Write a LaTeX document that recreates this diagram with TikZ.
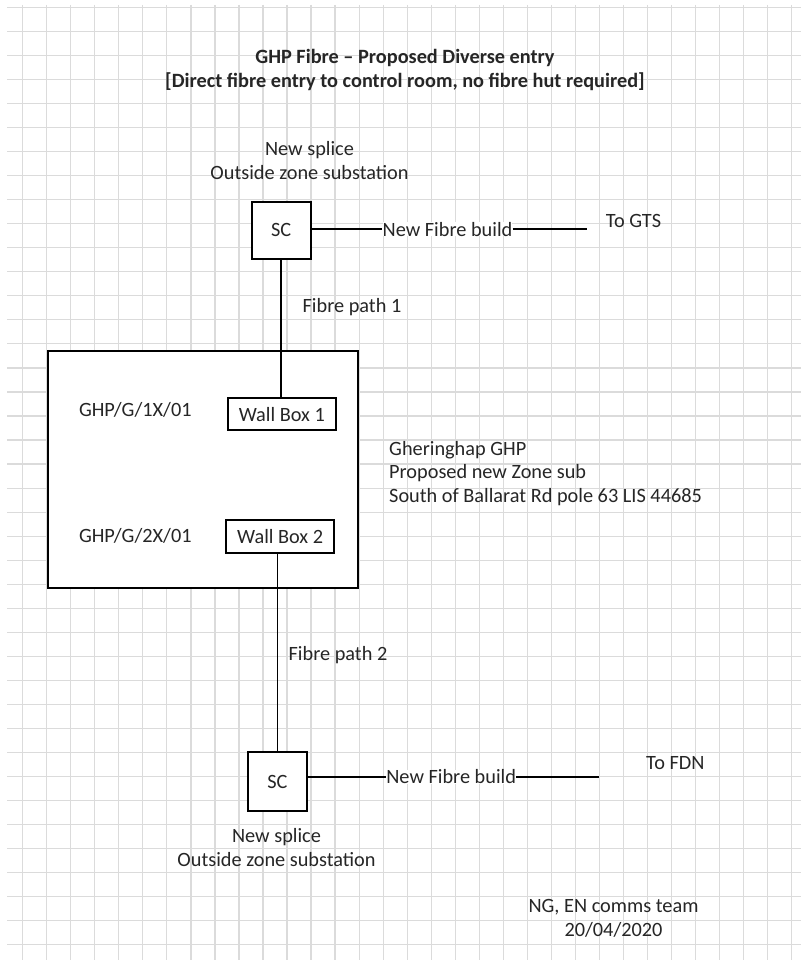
\documentclass[tikz,border=0pt]{standalone}
\usepackage{fontspec}
\setmainfont{Carlito}
\begin{document}
\begin{tikzpicture}[x=1pt,y=-1pt,
  gridline/.style={draw=black!14,line width=1.2pt},
  boxline/.style={draw=black,line width=2pt},
  conn/.style={draw=black,line width=1.9pt},
  txt/.style={inner sep=0pt,font=\fontsize{20.3}{24}\selectfont,text=black!85,align=center},
  scbox/.style={boxline,fill=white,inner sep=0pt,font=\fontsize{20.3}{24}\selectfont,text=black!85},
  wallbox/.style={boxline,fill=white,inner sep=0pt,font=\fontsize{20.3}{24}\selectfont,text=black!85}]
\useasboundingbox[fill=white] (0,0) rectangle (801,960);
% grid
\foreach \k in {0,...,39} \draw[gridline] (7,{7.3+24.04*\k}) -- (801,{7.3+24.04*\k});
\foreach \k in {0,...,32} \draw[gridline] ({22.7+24.03*\k},5) -- ({22.7+24.03*\k},960);
% title
\node[txt,font=\fontsize{20.3}{24}\selectfont\bfseries] (title) at (405,70) {GHP Fibre – Proposed Diverse entry\\{[}Direct fibre entry to control room, no fibre hut required{]}};
% top splice
\node[txt] (splice1) at (309.5,161) {New splice\\Outside zone substation};
\node[scbox,minimum width=59pt,minimum height=57pt] (sc1) at (281.2,230) {SC};
\node[txt,fill=white] (fb1) at (447.5,229.3) {New Fibre build};
\coordinate (gtsend) at (586.7,229.3);
\node[txt] (gts) at (633.5,220.7) {To GTS};
\draw[conn] (sc1.east |- fb1.west) -- (fb1.west);
\draw[conn] (fb1.east) -- (gtsend);
\node[txt] (fp1) at (352,306.7) {Fibre path 1};
% zone substation
\node[boxline,fill=white,minimum width=310pt,minimum height=237pt,inner sep=0pt] (zone) at (203.3,469.2) {};
\node[wallbox,minimum width=108.3pt,minimum height=31.7pt] (wb1) at (281.85,414.15) {Wall Box 1};
\node[wallbox,minimum width=108.3pt,minimum height=32.7pt] (wb2) at (280.15,536.35) {Wall Box 2};
\node[txt] (id1) at (135.3,410) {GHP/G/1X/01};
\node[txt] (id2) at (135.3,535.7) {GHP/G/2X/01};
\node[txt,align=left,anchor=west,font=\fontsize{20.3}{23.7}\selectfont] (zonelbl) at (389,473.3) {Gheringhap GHP\\Proposed new Zone sub\\South of Ballarat Rd pole 63 LIS 44685};
\draw[conn] (sc1.south) -- (sc1.south |- wb1.north);
% bottom splice
\node[scbox,minimum width=58.4pt,minimum height=58.4pt] (sc2) at (277.5,781.5) {SC};
\draw[conn] (sc2.north) -- (sc2.north |- wb2.south);
\node[txt] (fp2) at (338,655) {Fibre path 2};
\node[txt,fill=white] (fb2) at (451.2,776.7) {New Fibre build};
\coordinate (fdnend) at (599,776.7);
\node[txt] (fdn) at (675.3,763.3) {To FDN};
\draw[conn] (sc2.east |- fb2.west) -- (fb2.west);
\draw[conn] (fb2.east) -- (fdnend);
\node[txt] (splice2) at (276.5,847.5) {New splice\\Outside zone substation};
% footer
\node[txt] (footer) at (613.5,918.3) {NG, EN comms team\\20/04/2020};
\end{tikzpicture}
\end{document}
